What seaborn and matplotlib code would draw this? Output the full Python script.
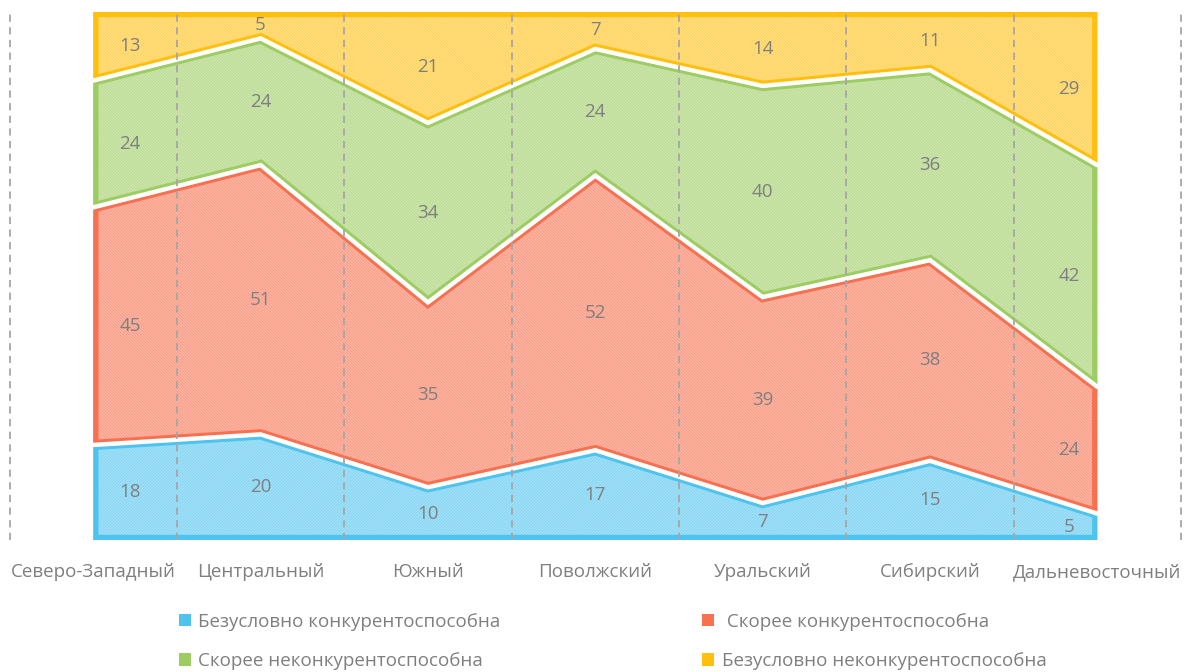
import numpy as np
import pandas as pd
import matplotlib
matplotlib.use("Agg")
import matplotlib.pyplot as plt
import seaborn as sns
from matplotlib.patches import Polygon, Patch
from matplotlib.colors import to_rgb

regions = ["Северо-Западный", "Центральный", "Южный", "Поволжский",
           "Уральский", "Сибирский", "Дальневосточный"]
series_names = ["Безусловно конкурентоспособна", " Скорее конкурентоспособна",
                "Скорее неконкурентоспособна", "Безусловно неконкурентоспособна"]
s_abs_yes = [18, 20, 10, 17, 7, 15, 5]
s_rather_yes = [45, 51, 35, 52, 39, 38, 24]
s_rather_no = [24, 24, 34, 24, 40, 36, 42]
s_abs_no = [13, 5, 21, 7, 14, 11, 29]
series_values = [s_abs_yes, s_rather_yes, s_rather_no, s_abs_no]
colors = ["#4EC3EE", "#F7704F", "#9DCC62", "#FFBF0F"]
hatches = ["/" * 22, "\\" * 22, "\\" * 22, "\\" * 22]

sns.set_theme(style="white")
plt.rcParams["font.family"] = ["Open Sans", "DejaVu Sans"]
plt.rcParams["hatch.linewidth"] = 0.4

df = pd.DataFrame(dict(zip(series_names, series_values)), index=regions)

fig = plt.figure(figsize=(11.87, 6.72), dpi=100)
ax = fig.add_axes([9.6 / 1187, 132 / 672, (1181 - 9.6) / 1187, 528 / 672])

x = np.arange(len(regions))
lower = np.zeros(len(regions))
gray = "#7F7F7F"
fs = 13.5
for i, name in enumerate(series_names):
    vals = df[name].to_numpy(dtype=float)
    upper = lower + vals
    col = np.array(to_rgb(colors[i]))
    tint = col * 0.14 + np.ones(3) * 0.86
    ax.fill_between(x, lower, upper, facecolor=tint, edgecolor=colors[i],
                    hatch=hatches[i], linewidth=0, zorder=1)
    verts = list(zip(x, upper)) + list(zip(x[::-1], lower[::-1]))
    clip = Polygon(verts, closed=True, transform=ax.transData)
    outline = Polygon(verts, closed=True, fill=False, edgecolor=colors[i],
                      linewidth=7.5, joinstyle="miter", zorder=2)
    ax.add_patch(outline)
    outline.set_clip_path(clip)
    if i > 0:
        ax.plot(x, lower, color="white", linewidth=3.2, zorder=3,
                solid_joinstyle="miter")
    for k in range(len(regions)):
        xo = k
        if k == 0:
            xo = k + 0.22
        elif k == len(regions) - 1:
            xo = k - 0.17
        ax.text(xo, (lower[k] + upper[k]) / 2, f"{int(vals[k])}", ha="center",
                va="center", fontsize=fs, color=gray, zorder=5)
    lower = upper

for g in np.arange(-0.5, len(regions), 1.0):
    ax.axvline(g, color="#A6A6A6", linewidth=1.3, dashes=(4, 3), zorder=4,
               clip_on=False)

ax.set_xlim(-0.5, len(regions) - 0.5)
ax.set_ylim(0, 100)
ax.set_yticks([])
ax.set_xticks(x)
ax.set_xticklabels(regions, fontsize=fs, color=gray)
ax.tick_params(axis="x", length=0, pad=16.5)
sns.despine(ax=ax, left=True, bottom=True)

order = [0, 2, 1, 3]
handles = [Patch(facecolor=colors[i], edgecolor="none") for i in order]
labels = [series_names[i] for i in order]
leg = fig.legend(handles, labels, loc="center", bbox_to_anchor=(0.516, 0.0455),
                 ncol=2, frameon=False, fontsize=fs, handlelength=0.65,
                 handleheight=0.65, handletextpad=0.4, columnspacing=10.75,
                 labelspacing=1.15)
for t in leg.get_texts():
    t.set_color(gray)

fig.savefig("out.png", dpi=100)
